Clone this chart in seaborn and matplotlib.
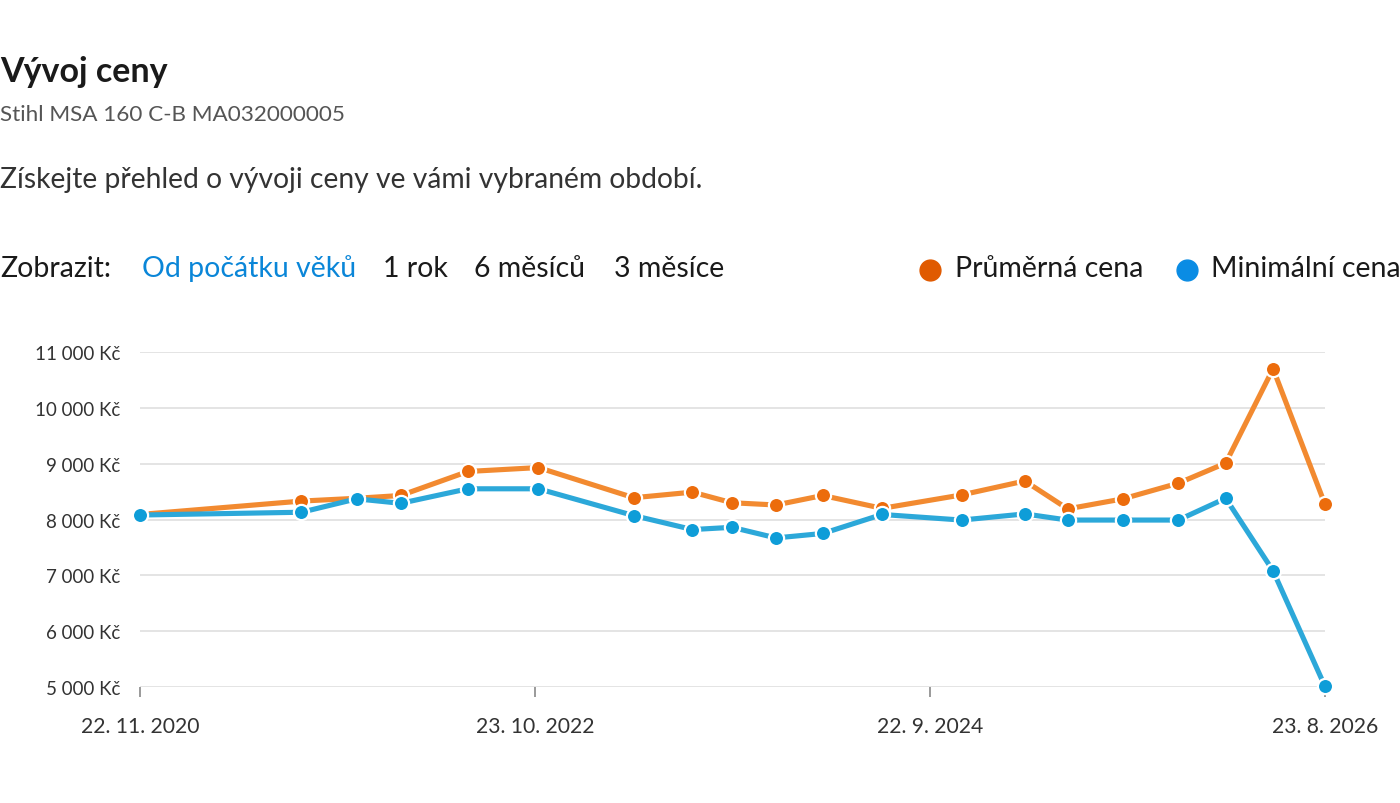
import numpy as np
import pandas as pd
import matplotlib
matplotlib.use("Agg")
import matplotlib.pyplot as plt
import seaborn as sns
from matplotlib.lines import Line2D

# ---- data ----
dates = ["2020-11-22", "2021-09-04", "2021-12-11", "2022-02-27", "2022-06-26",
         "2022-10-29", "2023-04-16", "2023-07-29", "2023-10-07", "2023-12-24",
         "2024-03-16", "2024-06-29", "2024-11-17", "2025-03-09", "2025-05-24",
         "2025-08-30", "2025-12-06", "2026-02-28", "2026-05-23", "2026-08-23"]
avg_price = [8090, 8330, 8380, 8430, 8860, 8930, 8390, 8490, 8300, 8260,
             8430, 8200, 8440, 8690, 8190, 8370, 8650, 9010, 10700, 8270]
min_price = [8080, 8130, 8370, 8290, 8550, 8550, 8070, 7820, 7860, 7670,
             7750, 8090, 7990, 8100, 7990, 7990, 7990, 8380, 7080, 5010]
series_names = ["Průměrná cena", "Minimální cena"]
ytick_values = [5000, 6000, 7000, 8000, 9000, 10000, 11000]
ytick_labels = ["5 000 Kč", "6 000 Kč", "7 000 Kč", "8 000 Kč", "9 000 Kč", "10 000 Kč", "11 000 Kč"]
xtick_dates = ["2020-11-22", "2022-10-23", "2024-09-22", "2026-08-23"]
xtick_labels = ["22. 11. 2020", "23. 10. 2022", "22. 9. 2024", "23. 8. 2026"]
period_labels = ["Od počátku věků", "1 rok", "6 měsíců", "3 měsíce"]

line_colors = ["#F28A30", "#2CA8D9"]
marker_colors = ["#EC6C0C", "#0E9DD8"]
legend_colors = ["#E05A00", "#0A8CE4"]

sns.set_theme(style="white")
plt.rcParams["font.family"] = ["Lato", "DejaVu Sans"]

W, H = 1400, 804
fig = plt.figure(figsize=(W / 100, H / 100), dpi=100)
fig.patch.set_facecolor("white")


def fx(x):
    return x / W


def fy(y):
    return 1 - y / H


ax = fig.add_axes([fx(140), fy(688), fx(1325) - fx(140), fy(353) - fy(688)])

df = pd.DataFrame({
    "datum": pd.to_datetime(dates * 2),
    "cena": avg_price + min_price,
    "serie": [series_names[0]] * len(dates) + [series_names[1]] * len(dates),
})

for i, name in enumerate(series_names):
    sub = df[df["serie"] == name]
    sns.lineplot(data=sub, x="datum", y="cena", color=line_colors[i], linewidth=3.7,
                 ax=ax, zorder=2 + 2 * i, clip_on=False, legend=False)
    sns.scatterplot(data=sub, x="datum", y="cena", color=marker_colors[i], s=120,
                    edgecolor="white", linewidth=1.6, ax=ax, zorder=3 + 2 * i,
                    clip_on=False, legend=False)

ax.set_ylim(ytick_values[0], ytick_values[-1])
ax.set_xlim(pd.Timestamp(dates[0]), pd.Timestamp(dates[-1]))
ax.set_yticks(ytick_values)
ax.set_yticklabels(ytick_labels)
ax.set_xticks(pd.to_datetime(xtick_dates))
ax.set_xticklabels(xtick_labels)
ax.set_xlabel("")
ax.set_ylabel("")
for s in ax.spines.values():
    s.set_visible(False)
ax.yaxis.grid(True, color="#e2e2e2", linewidth=1.3, zorder=0)
ax.xaxis.grid(False)
ax.set_axisbelow(True)
ax.tick_params(axis="y", left=False, length=0, pad=14, labelsize=13.5, labelcolor="#333333")
ax.tick_params(axis="x", bottom=True, length=7, width=1.4, color="#9a9a9a", pad=14,
               labelsize=15.2, labelcolor="#333333", direction="out")

# ---- header texts ----
fig.text(fx(0), fy(82), "Vývoj ceny", fontsize=24.5, fontweight="bold", color="#1a1a1a", va="baseline")
fig.text(fx(0), fy(121), "Stihl MSA 160 C-B MA032000005", fontsize=16.2, color="#555555", va="baseline")
fig.text(fx(0), fy(188), "Získejte přehled o vývoji ceny ve vámi vybraném období.", fontsize=20.3,
         color="#333333", va="baseline")
fig.text(fx(0), fy(277), "Zobrazit:", fontsize=20.5, color="#1a1a1a", va="baseline")
period_x = [142, 383, 474, 614]
for j, (lab, px) in enumerate(zip(period_labels, period_x)):
    fig.text(fx(px), fy(277), lab, fontsize=20.5, color="#0A86D8" if j == 0 else "#1a1a1a", va="baseline")

# ---- legend ----
leg_dot_x = [930, 1187]
leg_text_x = [955, 1211]
for i, name in enumerate(series_names):
    fig.add_artist(Line2D([fx(leg_dot_x[i])], [fy(271)], transform=fig.transFigure, marker="o",
                          markersize=15, color=legend_colors[i], linestyle="none"))
    fig.text(fx(leg_text_x[i]), fy(277), name, fontsize=20.5, color="#1a1a1a", va="baseline")

fig.savefig("out.png", dpi=100, facecolor="white")
